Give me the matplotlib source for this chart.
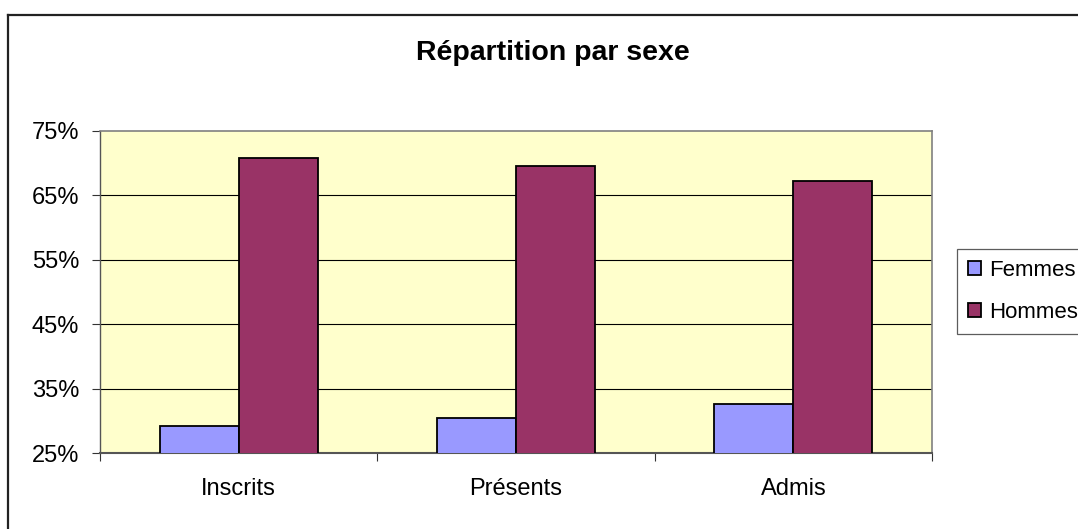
import matplotlib
matplotlib.use("Agg")
import matplotlib.pyplot as plt
from matplotlib.lines import Line2D
import numpy as np

plt.rcParams['font.family'] = ['Liberation Sans', 'DejaVu Sans']

categories = ['Inscrits', 'Présents', 'Admis']
femmes = [29.2, 30.5, 32.6]
hommes = [70.8, 69.5, 67.3]
yticks = [25, 35, 45, 55, 65, 75]

W, H = 1078, 529
fig = plt.figure(figsize=(W / 100, H / 100), dpi=100)
ax = fig.add_axes([100 / W, 1 - 453 / H, (932 - 100) / W, (453 - 131) / H])
ax.set_facecolor('#FFFFCC')

x = np.arange(len(categories))
bw = 0.285
ax.bar(x - bw / 2, femmes, bw, bottom=0, color='#9999FF', edgecolor='black',
       linewidth=1.3, label='Femmes', zorder=3)
ax.bar(x + bw / 2, hommes, bw, bottom=0, color='#993366', edgecolor='black',
       linewidth=1.3, label='Hommes', zorder=3)

ax.set_xlim(-0.5, len(categories) - 0.5)
ax.set_ylim(25, 75)
ax.set_yticks(yticks)
ax.set_yticklabels([f'{v}%' for v in yticks], fontsize=17)
for v in yticks[1:-1]:
    ax.axhline(v, color='black', linewidth=0.8, zorder=1)

# category labels centered, ticks at boundaries
ax.set_xticks(np.arange(-0.5, len(categories), 1.0))
ax.set_xticklabels([])
ax.set_xticks(x, minor=True)
ax.set_xticklabels(categories, minor=True, fontsize=17)
ax.tick_params(axis='x', which='minor', length=0, pad=18)
ax.tick_params(axis='x', which='major', length=6, width=0.8, color='#333333')
ax.tick_params(axis='y', length=6, width=0.8, pad=9, color='#333333')

for s in ['top', 'right']:
    ax.spines[s].set_color('#808080')
    ax.spines[s].set_linewidth(1.2)
ax.spines['left'].set_color('#555555')
ax.spines['bottom'].set_color('#555555')
ax.spines['left'].set_linewidth(1.0)
ax.spines['bottom'].set_linewidth(1.5)

fig.text(0.5 * (415 + 690) / W, 1 - 53 / H, 'Répartition par sexe', fontsize=20.5,
         fontweight='bold', ha='center', va='center')

leg = fig.legend(loc='upper left', bbox_to_anchor=(957 / W, 1 - 249 / H),
                 fontsize=16, frameon=True, fancybox=False, borderpad=0.5,
                 handlelength=0.6, handleheight=0.6, handletextpad=0.35,
                 labelspacing=0.95, borderaxespad=0)
leg.get_frame().set_edgecolor('#333333')
leg.get_frame().set_linewidth(0.9)

# outer chart frame
fig.add_artist(Line2D([8 / W, 8 / W], [0, 1 - 15 / H], transform=fig.transFigure,
                      color='#222222', linewidth=1.6))
fig.add_artist(Line2D([8 / W, 1], [1 - 15 / H, 1 - 15 / H], transform=fig.transFigure,
                      color='#222222', linewidth=1.6))

fig.savefig('out.png', dpi=100)
